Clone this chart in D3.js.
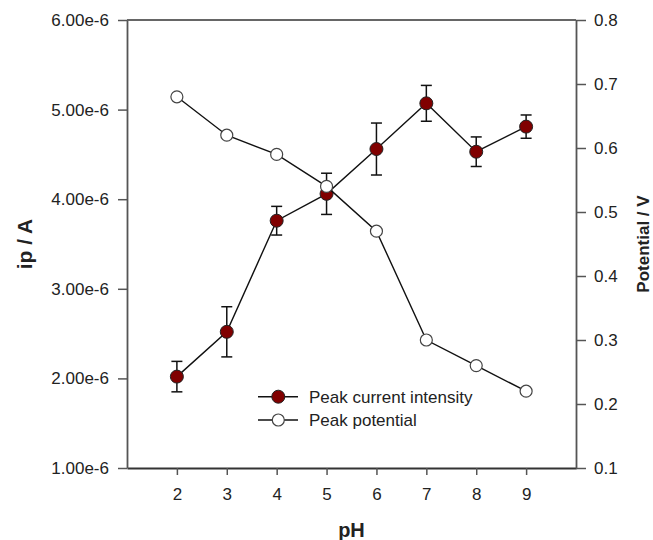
<!DOCTYPE html>
<html><head><meta charset="utf-8">
<script src="https://cdn.jsdelivr.net/npm/d3@7"></script>
<style>
html,body{margin:0;padding:0;background:#fff;}
svg text{font-family:"Liberation Sans",Arial,Helvetica,sans-serif;}
</style></head>
<body>
<svg id="chart" width="653" height="540"></svg>
<script>
const pH = [2, 3, 4, 5, 6, 7, 8, 9];
const currentValues = [2.02e-6, 2.52e-6, 3.76e-6, 4.06e-6, 4.56e-6, 5.07e-6, 4.53e-6, 4.81e-6];
const currentErrors = [0.17e-6, 0.28e-6, 0.16e-6, 0.23e-6, 0.29e-6, 0.20e-6, 0.165e-6, 0.13e-6];
const potentialValues = [0.68, 0.62, 0.59, 0.54, 0.47, 0.30, 0.26, 0.22];
const xTicks = [2, 3, 4, 5, 6, 7, 8, 9];
const leftTicks = [1e-6, 2e-6, 3e-6, 4e-6, 5e-6, 6e-6];
const rightTicks = [0.1, 0.2, 0.3, 0.4, 0.5, 0.6, 0.7, 0.8];
const seriesNames = ["Peak current intensity", "Peak potential"];

const svg = d3.select("#chart");
const L = 127, R = 576, T = 20, B = 468;
const x = d3.scaleLinear().domain([1, 10]).range([L, R]);
const yL = d3.scaleLinear().domain([1e-6, 6e-6]).range([B, T]);
const yR = d3.scaleLinear().domain([0.1, 0.8]).range([B, T]);
const axisColor = "#555";
const fontSize = 17;

// top border
svg.append("line").attr("x1", L).attr("x2", R).attr("y1", T).attr("y2", T)
  .attr("stroke", "#333").attr("stroke-width", 1.5);

const gx = svg.append("g").attr("transform", `translate(0,${B})`)
  .call(d3.axisBottom(x).tickValues(xTicks).tickFormat(d3.format("d")).tickSizeInner(7).tickSizeOuter(0).tickPadding(13));
const gl = svg.append("g").attr("transform", `translate(${L},0)`)
  .call(d3.axisLeft(yL).tickValues(leftTicks).tickFormat(d => (d / 1e-6).toFixed(2) + "e-6").tickSizeInner(9).tickSizeOuter(0).tickPadding(9));
const gr = svg.append("g").attr("transform", `translate(${R},0)`)
  .call(d3.axisRight(yR).tickValues(rightTicks).tickFormat(d3.format(".1f")).tickSizeInner(10).tickSizeOuter(0).tickPadding(8));
[gx, gl, gr].forEach(g => {
  g.select(".domain").attr("stroke", axisColor).attr("stroke-width", 1.8);
  g.selectAll(".tick line").attr("stroke", axisColor).attr("stroke-width", 1.5);
  g.selectAll(".tick text").attr("fill", "#222").style("font-size", fontSize + "px")
    .style("font-family", '"Liberation Sans",Arial,sans-serif');
});
gx.select(".domain").attr("stroke", "#333");

// axis titles
svg.append("text").attr("x", (L + R) / 2).attr("y", 537).attr("text-anchor", "middle")
  .style("font-size", "20px").style("font-weight", "bold").attr("fill", "#222").text("pH");
svg.append("text").attr("transform", `translate(32,${(T + B) / 2}) rotate(-90)`).attr("text-anchor", "middle")
  .style("font-size", "21px").style("font-weight", "bold").attr("fill", "#222").text("ip / A");
svg.append("text").attr("transform", `translate(649,${(T + B) / 2}) rotate(-90)`).attr("text-anchor", "middle")
  .style("font-size", "17px").style("font-weight", "bold").attr("fill", "#222").text("Potential / V");

const cur = pH.map((p, i) => ({ x: p, y: currentValues[i], e: currentErrors[i] }));
const pot = pH.map((p, i) => ({ x: p, y: potentialValues[i] }));

// current series
const gc = svg.append("g");
gc.append("path").datum(cur).attr("fill", "none").attr("stroke", "#111").attr("stroke-width", 1.4)
  .attr("d", d3.line().x(d => x(d.x)).y(d => yL(d.y)));
const eb = gc.selectAll("g.eb").data(cur).join("g").attr("stroke", "#111").attr("stroke-width", 1.5);
eb.append("line").attr("x1", d => x(d.x)).attr("x2", d => x(d.x))
  .attr("y1", d => yL(d.y + d.e)).attr("y2", d => yL(d.y - d.e));
eb.append("line").attr("x1", d => x(d.x) - 5.5).attr("x2", d => x(d.x) + 5.5)
  .attr("y1", d => yL(d.y + d.e)).attr("y2", d => yL(d.y + d.e));
eb.append("line").attr("x1", d => x(d.x) - 5.5).attr("x2", d => x(d.x) + 5.5)
  .attr("y1", d => yL(d.y - d.e)).attr("y2", d => yL(d.y - d.e));
gc.selectAll("circle").data(cur).join("circle").attr("cx", d => x(d.x)).attr("cy", d => yL(d.y))
  .attr("r", 6.5).attr("fill", "#800000").attr("stroke", "#222").attr("stroke-width", 1);

// potential series
const gp = svg.append("g");
gp.append("path").datum(pot).attr("fill", "none").attr("stroke", "#111").attr("stroke-width", 1.4)
  .attr("d", d3.line().x(d => x(d.x)).y(d => yR(d.y)));
gp.selectAll("circle").data(pot).join("circle").attr("cx", d => x(d.x)).attr("cy", d => yR(d.y))
  .attr("r", 6).attr("fill", "#fff").attr("stroke", "#444").attr("stroke-width", 1.2);

// legend
const lg = svg.append("g");
const legY = [396.7, 420];
seriesNames.forEach((name, i) => {
  const y = legY[i];
  lg.append("line").attr("x1", 258).attr("x2", 298).attr("y1", y).attr("y2", y)
    .attr("stroke", "#111").attr("stroke-width", 1.4);
  lg.append("circle").attr("cx", 278.3).attr("cy", y).attr("r", i === 0 ? 6.5 : 6)
    .attr("fill", i === 0 ? "#800000" : "#fff").attr("stroke", i === 0 ? "#222" : "#444")
    .attr("stroke-width", i === 0 ? 1 : 1.2);
  lg.append("text").attr("x", 309).attr("y", y).attr("dy", "0.35em")
    .style("font-size", fontSize + "px").attr("fill", "#222").text(name);
});
</script>
</body></html>
